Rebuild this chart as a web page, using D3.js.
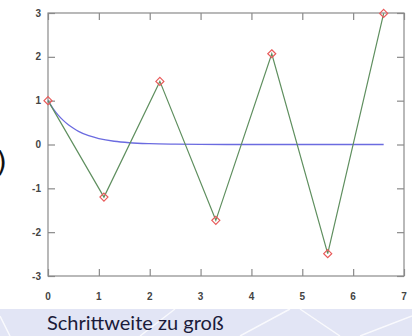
<!DOCTYPE html>
<html>
<head>
<meta charset="utf-8">
<script src="https://cdn.jsdelivr.net/npm/d3@7"></script>
<style>
  body { margin: 0; background: #fff; }
  svg { display: block; }
</style>
</head>
<body>
<svg id="chart"></svg>
<script>
// Euler steps (step too large) and the exact decay curve
const eulerT = [0, 1.1, 2.2, 3.3, 4.4, 5.5, 6.6];
const eulerY = [1, -1.2, 1.44, -1.73, 2.07, -2.49, 2.99];
const exactT = [0, 0.1, 0.2, 0.3, 0.4, 0.5, 0.6, 0.8, 1.0, 1.3, 1.6, 2.0, 2.5, 3.0, 4.0, 5.0, 6.6];
const exactY = [1, 0.82, 0.67, 0.55, 0.45, 0.37, 0.3, 0.2, 0.135, 0.074, 0.04, 0.018, 0.007, 0.002, 0, 0, 0];
const xTicks = [0, 1, 2, 3, 4, 5, 6, 7];
const yTicks = [-3, -2, -1, 0, 1, 2, 3];

const W = 412, H = 336;
const svg = d3.select('#chart').attr('width', W).attr('height', H);

// slide background band at the bottom
const band = svg.append('g');
band.append('rect').attr('x', 0).attr('y', 309).attr('width', W).attr('height', H - 309)
  .attr('fill', '#e2e5f5');
[[140, 336, 175, 309], [240, 336, 290, 309], [300, 309, 340, 336], [360, 336, 412, 316], [10, 336, 0, 316]]
  .forEach(l => band.append('line')
    .attr('x1', l[0]).attr('y1', l[1]).attr('x2', l[2]).attr('y2', l[3])
    .attr('stroke', '#fff').attr('stroke-width', 1.5).attr('opacity', 0.8));

svg.append('text')
  .attr('x', 47).attr('y', 330)
  .attr('font-family', 'Lato, "Open Sans", sans-serif')
  .attr('font-size', 20)
  .attr('fill', '#1b1b3a')
  .text('Schrittweite zu groß');

// leftover bit of the slide text on the left edge
svg.append('text')
  .attr('x', -4).attr('y', 172)
  .attr('font-family', '"DejaVu Sans", sans-serif')
  .attr('font-size', 28)
  .attr('fill', '#111')
  .text(')');

const x = d3.scaleLinear().domain([0, 7]).range([48, 404]);
const y = d3.scaleLinear().domain([-3, 3]).range([276, 13]);

const frame = '#8a8a8a';
const tickLen = 7;

// inward ticks on all four sides
const axes = [
  [d3.axisBottom(x).tickValues(xTicks).tickSize(tickLen).tickFormat(''), `translate(0,${y(-3)}) scale(1,-1)`],
  [d3.axisBottom(x).tickValues(xTicks).tickSize(tickLen).tickFormat(''), `translate(0,${y(3)})`],
  [d3.axisLeft(y).tickValues(yTicks).tickSize(-tickLen).tickFormat(''), `translate(${x(0)},0)`],
  [d3.axisRight(y).tickValues(yTicks).tickSize(-tickLen).tickFormat(''), `translate(${x(7)},0)`]
];
axes.forEach(a => {
  const g = svg.append('g').attr('transform', a[1]).call(a[0]);
  g.select('.domain').remove();
  g.selectAll('line').attr('stroke', frame).attr('stroke-width', 1.2);
});

svg.append('rect')
  .attr('x', x(0)).attr('y', y(3))
  .attr('width', x(7) - x(0)).attr('height', y(-3) - y(3))
  .attr('fill', 'none').attr('stroke', frame).attr('stroke-width', 1.2);

// tick labels
svg.append('g').selectAll('text').data(xTicks).join('text')
  .attr('x', d => x(d)).attr('y', 300)
  .attr('text-anchor', 'middle')
  .attr('font-family', '"Liberation Sans", Arial, sans-serif')
  .attr('font-size', 10).attr('font-weight', 'bold')
  .attr('fill', '#444')
  .text(d => d);

svg.append('g').selectAll('text').data(yTicks).join('text')
  .attr('x', 41).attr('y', d => y(d) + 3.5)
  .attr('text-anchor', 'end')
  .attr('font-family', '"Liberation Sans", Arial, sans-serif')
  .attr('font-size', 10).attr('font-weight', 'bold')
  .attr('fill', '#444')
  .text(d => d);

// exact solution
const exact = exactT.map((t, i) => [t, exactY[i]]);
svg.append('path')
  .datum(exact)
  .attr('d', d3.line().x(d => x(d[0])).y(d => y(d[1])).curve(d3.curveMonotoneX))
  .attr('fill', 'none').attr('stroke', '#6b6be0').attr('stroke-width', 1.3);

// Euler iterates
const euler = eulerT.map((t, i) => [t, eulerY[i]]);
svg.append('path')
  .datum(euler)
  .attr('d', d3.line().x(d => x(d[0])).y(d => y(d[1])))
  .attr('fill', 'none').attr('stroke', '#5f8f5f').attr('stroke-width', 1.2);

svg.append('g').selectAll('path').data(euler).join('path')
  .attr('transform', d => `translate(${x(d[0])},${y(d[1])})`)
  .attr('d', 'M0,-4L4,0L0,4L-4,0Z')
  .attr('fill', 'none').attr('stroke', '#e85a5a').attr('stroke-width', 1.2);
</script>
</body>
</html>
